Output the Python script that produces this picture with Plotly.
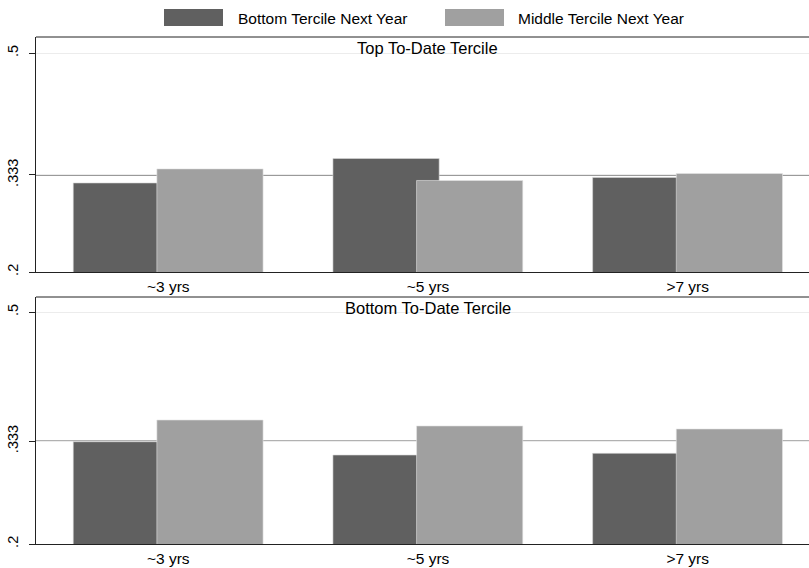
import plotly.graph_objects as go

# ---------------- data ----------------
categories = ["~3 yrs", "~5 yrs", ">7 yrs"]
series_names = ["Bottom Tercile Next Year", "Middle Tercile Next Year"]
panel_titles = ["Top To-Date Tercile", "Bottom To-Date Tercile"]

top_bottom_next = [0.322, 0.3555, 0.3296]
top_middle_next = [0.3413, 0.3254, 0.335]
bot_bottom_next = [0.3323, 0.3151, 0.3173]
bot_middle_next = [0.3604, 0.3527, 0.3488]

ytick_vals = [0.2, 0.333, 0.5]
ytick_text = [".2", ".333", ".5"]
ref_value = 0.333

# ---------------- style ----------------
# the plot area runs slightly past the right edge of the 809 px window (as in the reference)
W, H = 813, 568
ML, MR, MT, MB = 36, 0, 37, 24
PW, PH = W - ML - MR, H - MT - MB
DARK = "#606060"
LIGHT = "#a0a0a0"
FONT = "Liberation Sans, Arial, sans-serif"
BAR_W = 0.409
OFF_DARK = -0.366
OFF_LIGHT = -0.044
X_RANGE = [-0.5094, 2.4825]


def px_x(px):
    return (px - ML) / PW


def px_y(py):
    return (H - MB - py) / PH


fig = go.Figure()

panels = [
    ("x", "y", top_bottom_next, top_middle_next),
    ("x2", "y2", bot_bottom_next, bot_middle_next),
]
for xa, ya, dark_vals, light_vals in panels:
    fig.add_trace(go.Bar(
        x=categories, y=dark_vals, name=series_names[0], xaxis=xa, yaxis=ya,
        width=BAR_W, offset=OFF_DARK, showlegend=False,
        marker=dict(color=DARK, line=dict(color="#d8d8d8", width=0.6)),
    ))
    fig.add_trace(go.Bar(
        x=categories, y=light_vals, name=series_names[1], xaxis=xa, yaxis=ya,
        width=BAR_W, offset=OFF_LIGHT, showlegend=False,
        marker=dict(color=LIGHT, line=dict(color="#e4e4e4", width=0.6)),
    ))

xcommon = dict(
    type="category", range=X_RANGE, showline=True, mirror=False,
    linecolor="#222222", linewidth=1, ticks="", showgrid=False, zeroline=False,
    tickfont=dict(family=FONT, size=15.5, color="black"), fixedrange=True,
)
ycommon = dict(
    tickvals=ytick_vals, ticktext=ytick_text, tickangle=-90,
    showline=True, mirror=False, linecolor="#222222", linewidth=1,
    ticks="outside", ticklen=6, tickcolor="#222222", tickwidth=1,
    showgrid=True, gridcolor="#ececec", gridwidth=1, zeroline=False,
    tickfont=dict(family=FONT, size=14.5, color="black"), fixedrange=True,
    ticklabelstandoff=5,
)

fig.update_layout(
    width=W, height=H,
    margin=dict(l=ML, r=MR, t=MT, b=MB, pad=0),
    paper_bgcolor="white", plot_bgcolor="white",
    barmode="overlay", showlegend=False,
    font=dict(family=FONT, color="black"),
    xaxis=dict(domain=[0, 1], anchor="y", **xcommon),
    yaxis=dict(domain=[px_y(272), 1], anchor="x", range=[0.2, 0.522], **ycommon),
    xaxis2=dict(domain=[0, 1], anchor="y2", **xcommon),
    yaxis2=dict(domain=[0, px_y(297)], anchor="x2", range=[0.2, 0.5195], **ycommon),
)

# reference line at .333 and top frame line in each panel
for xd, ya, yd in [("x domain", "y", "y domain"), ("x2 domain", "y2", "y2 domain")]:
    fig.add_shape(type="line", xref=xd, yref=ya, x0=0, x1=1, y0=ref_value, y1=ref_value,
                  line=dict(color="#111111", width=1), layer="below")
    fig.add_shape(type="line", xref=xd, yref=yd, x0=0, x1=1, y0=1, y1=1,
                  line=dict(color="#222222", width=1), layer="above")

# panel titles
for title, xa, yd in [(panel_titles[0], "x", "y domain"), (panel_titles[1], "x2", "y2 domain")]:
    fig.add_annotation(text=title, x=categories[1], xref=xa, y=1, yref=yd,
                       xanchor="center", yanchor="top", showarrow=False,
                       font=dict(family=FONT, size=16.5, color="black"))

# legend (drawn manually to match wide key boxes)
legend_items = [
    (series_names[0], DARK, 164, 223, 236),
    (series_names[1], LIGHT, 445, 504, 516),
]
for name, color, bx0, bx1, tx in legend_items:
    fig.add_shape(type="rect", xref="paper", yref="paper",
                  x0=px_x(bx0), x1=px_x(bx1), y0=px_y(26), y1=px_y(9),
                  fillcolor=color, line=dict(width=0))
    fig.add_annotation(text=name, xref="paper", yref="paper",
                       x=px_x(tx), y=px_y(18.5), xanchor="left", yanchor="middle",
                       showarrow=False, font=dict(family=FONT, size=15.5, color="black"))

fig.write_html("out.html", config={"displayModeBar": False},
               post_script="document.body.style.margin='0px';"
                           "document.body.style.overflow='hidden';"
                           "document.documentElement.style.overflow='hidden';")
